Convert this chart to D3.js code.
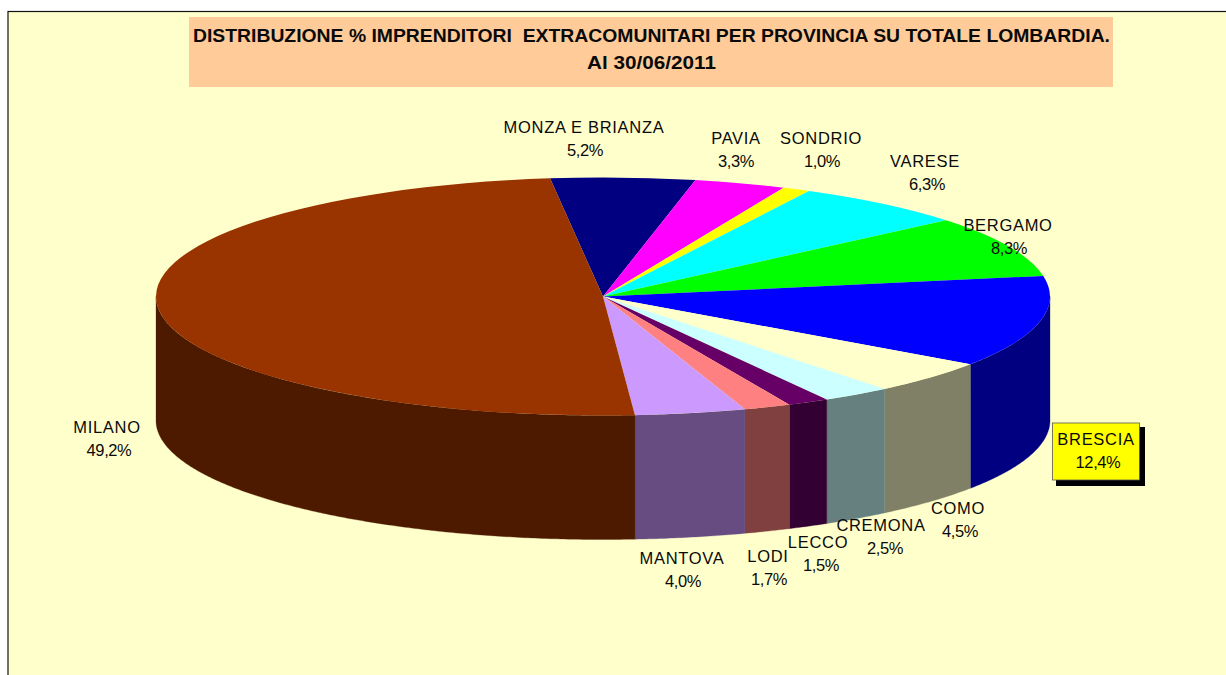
<!DOCTYPE html>
<html><head><meta charset="utf-8">
<script src="https://cdnjs.cloudflare.com/ajax/libs/d3/7.8.5/d3.min.js"></script>
<style>html,body{margin:0;padding:0;background:#fff;overflow:hidden}svg{display:block}
text{font-family:"Liberation Sans",Arial,sans-serif;fill:#0a0a0a}</style></head><body>
<svg id="c" width="1226" height="675"></svg>
<script>
const provinces=["MONZA E BRIANZA","PAVIA","SONDRIO","VARESE","BERGAMO","BRESCIA","COMO","CREMONA","LECCO","LODI","MANTOVA","MILANO"];
const shares=[5.2,3.3,1.0,6.3,8.3,12.4,4.5,2.5,1.5,1.7,4.0,49.2];
const shareLabels=["5,2%","3,3%","1,0%","6,3%","8,3%","12,4%","4,5%","2,5%","1,5%","1,7%","4,0%","49,2%"];
const topColors=["#000080","#FF00FF","#FFFF00","#00FFFF","#00FF00","#0000FF","#FFFFCC","#CCFFFF","#660066","#FF8080","#CC99FF","#993300"];
const sideColors=["#000040","#800080","#808000","#008080","#008000","#000080","#808066","#668080","#330033","#804040","#664C80","#4D1A00"];
const titleLines=["DISTRIBUZIONE % IMPRENDITORI  EXTRACOMUNITARI PER PROVINCIA SU TOTALE LOMBARDIA.","Al 30/06/2011"];
// hand-placed label anchors (centre x, first baseline y), as in the source chart
const labelNameX=[584,736,821,925,1008,1096,958,881,818,768,682,107];
const labelPctX=[585,736,822,927,1009,1098,960,885,821,769,683,109];
const labelY=[133,144,144,167,231,445,514,531,548,562,564,433];

const W=1226,H=675,cx=603,cy=296.5,rx=447,ry=119,depth=124,lineGap=23;
const svg=d3.select("#c");
svg.append("rect").attr("x",8).attr("y",11.5).attr("width",W).attr("height",H).attr("fill","#FFFFCC").attr("stroke","#111").attr("stroke-width",1.2);
svg.append("rect").attr("x",189).attr("y",17).attr("width",924).attr("height",70).attr("fill","#FFCC99");
const tl=[[917,42],[129,69]];
titleLines.forEach((t,i)=>svg.append("text").attr("x",651.5).attr("y",tl[i][1]).attr("text-anchor","middle")
  .attr("font-size",19).attr("font-weight","bold").attr("textLength",tl[i][0]).attr("lengthAdjust","spacingAndGlyphs").attr("xml:space","preserve").style("white-space","pre").text(t));

const start=-6.8*Math.PI/180;
const arcs=d3.pie().sort(null).startAngle(start).endAngle(start+2*Math.PI)(shares);
const px=d3.scaleLinear().domain([-1,1]).range([cx-rx,cx+rx]);
const py=d3.scaleLinear().domain([-1,1]).range([cy-ry,cy+ry]);
const line=d3.line();
const walls=svg.append("g"), tops=svg.append("g").attr("transform",`translate(${cx},${cy}) scale(${rx/1000},${ry/1000})`);
arcs.forEach((a,i)=>{
  const segs=[[a.startAngle,a.endAngle],[a.startAngle+2*Math.PI,a.endAngle+2*Math.PI]];
  segs.forEach(([s,e])=>{
    const lo=Math.max(s,Math.PI/2),hi=Math.min(e,1.5*Math.PI);
    if(hi<=lo)return;
    const n=Math.ceil((hi-lo)*120);
    const ang=d3.range(n+1).map(k=>lo+(hi-lo)*k/n);
    const upper=ang.map(t=>[px(Math.sin(t)),py(-Math.cos(t))]);
    const lower=ang.slice().reverse().map(t=>[px(Math.sin(t)),py(-Math.cos(t))+depth]);
    walls.append("path").attr("d",line(upper.concat(lower))+"Z").attr("fill",sideColors[i]).attr("stroke",sideColors[i]).attr("stroke-width",.3);
  });
});
const arcGen=d3.arc().innerRadius(0).outerRadius(1000);
tops.selectAll("path").data(arcs).join("path").attr("d",arcGen).attr("fill",(d,i)=>topColors[i]);

// Brescia highlighted label box
svg.append("rect").attr("x",1056).attr("y",427).attr("width",89).attr("height",59).attr("fill","#000");
svg.append("rect").attr("x",1052.5).attr("y",423).attr("width",87).attr("height",57).attr("fill","#FFFF00").attr("stroke","#555").attr("stroke-width",.8);

const lab=svg.append("g");
provinces.forEach((p,i)=>{
  lab.append("text").attr("x",labelNameX[i]).attr("y",labelY[i]).attr("text-anchor","middle").attr("font-size",16.5).attr("letter-spacing",.7).text(p);
  lab.append("text").attr("x",labelPctX[i]).attr("y",labelY[i]+lineGap).attr("text-anchor","middle").attr("font-size",16.5).attr("letter-spacing",-.4).text(shareLabels[i]);
});
</script></body></html>
